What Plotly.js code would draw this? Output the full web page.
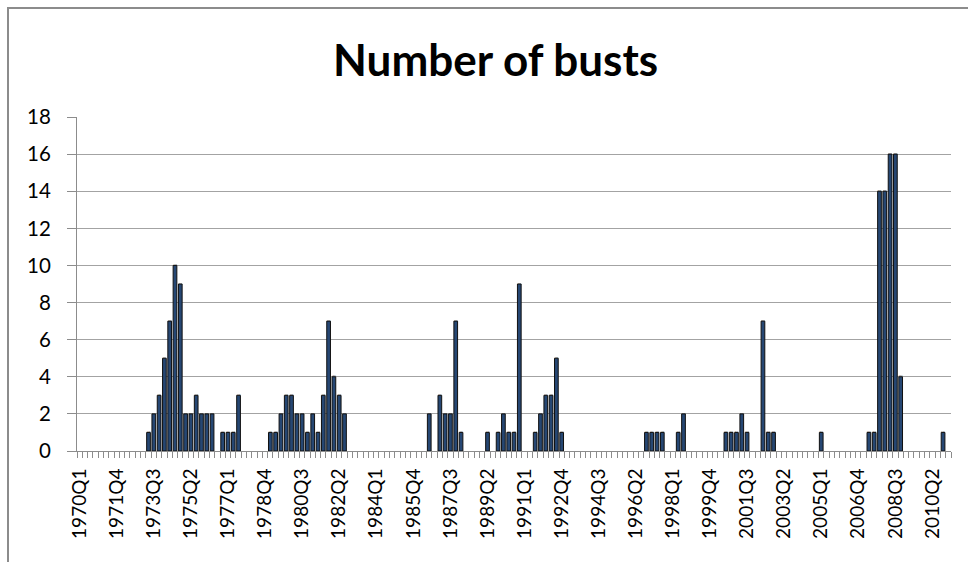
<!DOCTYPE html>
<html><head><meta charset="utf-8">
<script src="https://cdn.plot.ly/plotly-3.0.1.min.js"></script>
<style>
html,body{margin:0;padding:0;background:#fff;overflow:hidden;}
#chart{width:968px;height:562px;position:absolute;left:0;top:0;}
#frame{position:absolute;left:7px;top:7px;width:980px;height:580px;border-left:2px solid #8c8c8c;border-top:2px solid #8c8c8c;pointer-events:none;}
</style>
</head><body>
<div id="chart"></div><div id="frame"></div>
<script>
// Categories: quarters 1970Q1 .. 2011Q1
const firstYear = 1970;
const lastYear = 2011;
const nQuarters = 165;
const quarters = [];
for (let y = firstYear; y <= lastYear; y++) {
  for (let q = 1; q <= 4; q++) {
    if (quarters.length < nQuarters) quarters.push(y + 'Q' + q);
  }
}

// Number of busts per quarter, 4 per year
const busts = [
  0,0,0,0,   // 1970
  0,0,0,0,   // 1971
  0,0,0,0,   // 1972
  0,1,2,3,   // 1973
  5,7,10,9,  // 1974
  2,2,3,2,   // 1975
  2,2,0,1,   // 1976
  1,1,3,0,   // 1977
  0,0,0,0,   // 1978
  1,1,2,3,   // 1979
  3,2,2,1,   // 1980
  2,1,3,7,   // 1981
  4,3,2,0,   // 1982
  0,0,0,0,   // 1983
  0,0,0,0,   // 1984
  0,0,0,0,   // 1985
  0,0,2,0,   // 1986
  3,2,2,7,   // 1987
  1,0,0,0,   // 1988
  0,1,0,1,   // 1989
  2,1,1,9,   // 1990
  0,0,1,2,   // 1991
  3,3,5,1,   // 1992
  0,0,0,0,   // 1993
  0,0,0,0,   // 1994
  0,0,0,0,   // 1995
  0,0,0,1,   // 1996
  1,1,1,0,   // 1997
  0,1,2,0,   // 1998
  0,0,0,0,   // 1999
  0,0,1,1,   // 2000
  1,2,1,0,   // 2001
  0,7,1,1,   // 2002
  0,0,0,0,   // 2003
  0,0,0,0,   // 2004
  1,0,0,0,   // 2005
  0,0,0,0,   // 2006
  0,1,1,14,  // 2007
  14,16,16,4,// 2008
  0,0,0,0,   // 2009
  0,0,0,1,   // 2010
  0          // 2011
];

const labelStep = 7;
const xIndex = quarters.map((q, i) => i);
const tickIdx = xIndex.filter(i => i % labelStep === 0);
const tickLabels = tickIdx.map(i => quarters[i]);
const yTicks = [0, 2, 4, 6, 8, 10, 12, 14, 16, 18];
const titleText = 'Number of busts';

const axisGray = '#8c8c8c';
const fontFam = 'Lato, "Open Sans", sans-serif';

const trace = {
  type: 'bar',
  x: xIndex,
  y: busts,
  text: quarters,
  hoverinfo: 'text+y',
  marker: {
    color: '#264773',
    line: { color: '#101010', width: busts.map(v => v > 0 ? 1 : 0) }
  }
};

const layout = {
  width: 968, height: 562,
  margin: { l: 77, r: 17, t: 117, b: 111, pad: 0 },
  paper_bgcolor: '#ffffff', plot_bgcolor: '#ffffff',
  bargap: 0.3,
  showlegend: false,
  title: {
    text: '<b>' + titleText + '</b>',
    font: { family: fontFam, size: 44, color: '#000' },
    x: 0.512, xanchor: 'center', xref: 'container',
    y: 1 - 61 / 562, yanchor: 'middle', yref: 'container'
  },
  xaxis: {
    range: [-0.5, nQuarters - 0.5],
    tickmode: 'array', tickvals: tickIdx, ticktext: tickLabels,
    tickangle: -90,
    ticks: '',
    showgrid: false, zeroline: false,
    showline: true, linecolor: axisGray, linewidth: 1,
    tickfont: { family: fontFam, size: 19, color: '#000' },
    ticklabelstandoff: 9,
    minor: { tickmode: 'linear', tick0: -0.5, dtick: 1, ticks: 'outside', ticklen: 6, tickcolor: axisGray, tickwidth: 1, showgrid: false },
    fixedrange: true
  },
  yaxis: {
    range: [0, 18],
    tickmode: 'array', tickvals: yTicks,
    ticks: 'outside', ticklen: 9, tickcolor: axisGray, tickwidth: 1,
    showline: true, linecolor: axisGray, linewidth: 1,
    showgrid: true, gridcolor: '#a3a3a3', gridwidth: 1,
    zeroline: false,
    tickfont: { family: fontFam, size: 20.5, color: '#000' },
    ticklabelstandoff: 12,
    fixedrange: true
  }
};

Plotly.newPlot('chart', [trace], layout, { displayModeBar: false, staticPlot: true });
</script>
</body></html>
